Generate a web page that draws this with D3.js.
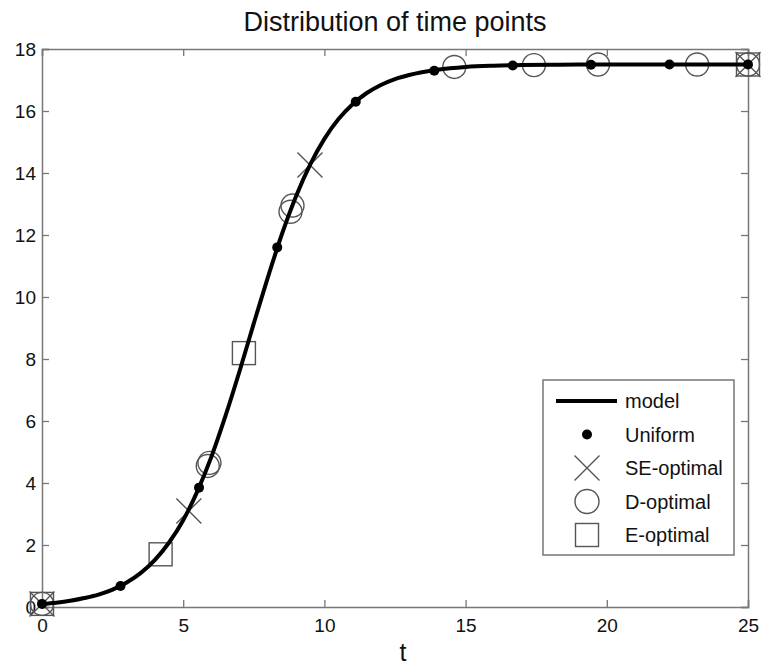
<!DOCTYPE html>
<html>
<head>
<meta charset="utf-8">
<script src="https://cdnjs.cloudflare.com/ajax/libs/d3/7.8.5/d3.min.js"></script>
<style>
  body { margin: 0; background: #fff; }
  text { font-family: "Liberation Sans", Arial, sans-serif; fill: #111; }
</style>
</head>
<body>
<div class="canva"></div>
<script>
// model curve
const modelT = [0, 0.5, 1, 1.5, 2, 2.5, 3, 3.5, 4, 4.5, 5, 5.5, 6, 6.5, 7, 7.5, 8, 8.5, 9, 9.5, 10, 10.5, 11, 11.5, 12, 12.5, 13,
  14, 15, 16, 17, 18, 19, 20, 21, 22, 23, 24, 25];
const modelY = [0.10, 0.14, 0.20, 0.29, 0.40, 0.56, 0.79, 1.10, 1.52, 2.08, 2.80, 3.73, 4.85, 6.17, 7.62, 9.15, 10.64, 12.04, 13.26, 14.28, 15.10, 15.74, 16.22, 16.58, 16.84, 17.03, 17.16,
  17.33, 17.42, 17.46, 17.48, 17.49, 17.5, 17.5, 17.5, 17.5, 17.5, 17.5, 17.5];

const uniformT = [0, 2.78, 5.56, 8.33, 11.11, 13.89, 16.67, 19.44, 22.22, 25];
const uniformY = [0.10, 0.68, 3.85, 11.6, 16.3, 17.3, 17.47, 17.49, 17.5, 17.5];

const seT = [0, 5.2, 9.49, 25];
const seY = [0.10, 3.1, 14.26, 17.5];

const dT = [0, 5.87, 5.93, 8.8, 8.87, 14.6, 17.42, 19.69, 23.2, 25];
const dY = [0.10, 4.55, 4.65, 12.75, 12.95, 17.42, 17.48, 17.5, 17.5, 17.5];

const eT = [0, 4.2, 7.15, 25];
const eY = [0.10, 1.7, 8.19, 17.5];

const xTicks = [0, 5, 10, 15, 20, 25];
const yTicks = [0, 2, 4, 6, 8, 10, 12, 14, 16, 18];

const legendLabels = ['model', 'Uniform', 'SE-optimal', 'D-optimal', 'E-optimal'];

const W = 761, H = 669;
const mLeft = 42, mRight = 748, mTop = 49, mBottom = 607;
const axisColor = '#777';
const markColor = '#555';

const svg = d3.select('.canva').append('svg')
  .attr('width', W)
  .attr('height', H);

svg.append('rect').attr('width', W).attr('height', H).attr('fill', '#fff');

const x = d3.scaleLinear().domain([0, 25]).range([mLeft, mRight]);
const y = d3.scaleLinear().domain([0, 18]).range([mBottom, mTop]);

// axes, ticks inward on all four sides
const tk = 7;
svg.append('g').attr('transform', `translate(0,${mBottom})`)
  .call(d3.axisBottom(x).tickValues(xTicks).tickSize(-tk).tickPadding(12))
  .call(g => g.selectAll('text').attr('font-size', 19).attr('dy', '0.71em'));
svg.append('g').attr('transform', `translate(0,${mTop})`)
  .call(d3.axisTop(x).tickValues(xTicks).tickSize(-tk).tickFormat(''));
svg.append('g').attr('transform', `translate(${mLeft},0)`)
  .call(d3.axisLeft(y).tickValues(yTicks).tickSize(-tk).tickPadding(6))
  .call(g => g.selectAll('text').attr('font-size', 19).attr('dy', '0.36em'));
svg.append('g').attr('transform', `translate(${mRight},0)`)
  .call(d3.axisRight(y).tickValues(yTicks).tickSize(-tk).tickFormat(''));

svg.selectAll('.domain').attr('stroke', axisColor).attr('stroke-width', 1.5);
svg.selectAll('.tick line').attr('stroke', axisColor).attr('stroke-width', 1.3);
svg.selectAll('.tick text').attr('fill', '#111').style('font-family', '"Liberation Sans", Arial, sans-serif');

// title and x label
svg.append('text')
  .attr('x', (mLeft + mRight) / 2)
  .attr('y', 31)
  .attr('text-anchor', 'middle')
  .attr('font-size', 27)
  .text('Distribution of time points');

svg.append('text')
  .attr('x', (mLeft + mRight) / 2 + 8)
  .attr('y', 661)
  .attr('text-anchor', 'middle')
  .attr('font-size', 25)
  .text('t');

const plot = svg.append('g');

// markers
function cross(g, cx, cy, s) {
  g.append('path')
    .attr('d', `M${cx - s},${cy - s}L${cx + s},${cy + s}M${cx - s},${cy + s}L${cx + s},${cy - s}`)
    .attr('stroke', markColor).attr('stroke-width', 1.4).attr('fill', 'none');
}

const eData = eT.map((t, i) => [t, eY[i]]);
plot.selectAll('.sq').data(eData).enter().append('rect')
  .attr('x', d => x(d[0]) - 11.5)
  .attr('y', d => y(d[1]) - 11.5)
  .attr('width', 23).attr('height', 23)
  .attr('fill', 'none').attr('stroke', markColor).attr('stroke-width', 1.4);

const dData = dT.map((t, i) => [t, dY[i]]);
plot.selectAll('.ci').data(dData).enter().append('circle')
  .attr('cx', d => x(d[0]))
  .attr('cy', d => y(d[1]))
  .attr('r', 11.5)
  .attr('fill', 'none').attr('stroke', markColor).attr('stroke-width', 1.4);

seT.forEach((t, i) => cross(plot, x(t), y(seY[i]), 12.5));

// model line
const line = d3.line()
  .x(d => x(d[0]))
  .y(d => y(d[1]))
  .curve(d3.curveMonotoneX);

plot.append('path')
  .datum(modelT.map((t, i) => [t, modelY[i]]))
  .attr('d', line)
  .attr('fill', 'none')
  .attr('stroke', '#000')
  .attr('stroke-width', 4);

plot.selectAll('.dot').data(uniformT.map((t, i) => [t, uniformY[i]])).enter().append('circle')
  .attr('cx', d => x(d[0]))
  .attr('cy', d => y(d[1]))
  .attr('r', 5)
  .attr('fill', '#000');

// legend
const lg = svg.append('g');
lg.append('rect')
  .attr('x', 543).attr('y', 380)
  .attr('width', 191).attr('height', 175)
  .attr('fill', '#fff').attr('stroke', axisColor).attr('stroke-width', 1.5);

const rowY = d => 401 + d * 33.5;
const mx = 587;

lg.append('line').attr('x1', 556).attr('x2', 617).attr('y1', rowY(0)).attr('y2', rowY(0))
  .attr('stroke', '#000').attr('stroke-width', 4);
lg.append('circle').attr('cx', mx).attr('cy', rowY(1)).attr('r', 5).attr('fill', '#000');
cross(lg, mx, rowY(2), 12.5);
lg.append('circle').attr('cx', mx).attr('cy', rowY(3)).attr('r', 12)
  .attr('fill', 'none').attr('stroke', markColor).attr('stroke-width', 1.4);
lg.append('rect').attr('x', mx - 11.5).attr('y', rowY(4) - 11.5).attr('width', 23).attr('height', 23)
  .attr('fill', 'none').attr('stroke', markColor).attr('stroke-width', 1.4);

lg.selectAll('.lt').data(legendLabels).enter().append('text')
  .attr('x', 625)
  .attr('y', (d, i) => rowY(i))
  .attr('dy', '0.35em')
  .attr('font-size', 20)
  .text(d => d);
</script>
</body>
</html>
